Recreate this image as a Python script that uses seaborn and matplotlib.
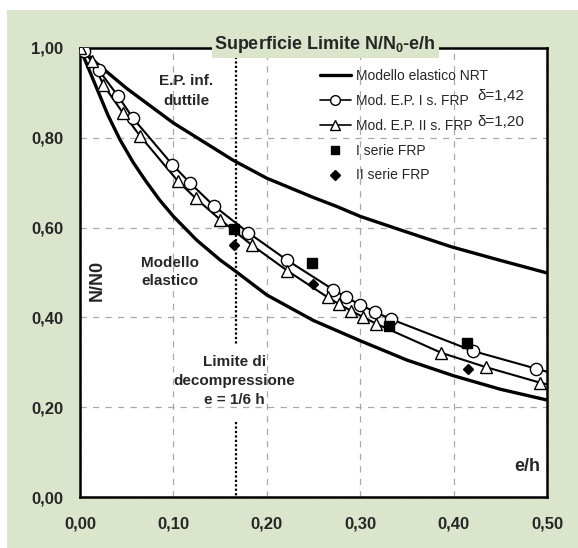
import matplotlib
matplotlib.use("Agg")
import matplotlib.pyplot as plt
import seaborn as sns
from matplotlib.lines import Line2D
from matplotlib.patches import Rectangle

# ---------------- data ----------------
x_ticks = [0.0, 0.1, 0.2, 0.3, 0.4, 0.5]
x_tick_labels = ["0,00", "0,10", "0,20", "0,30", "0,40", "0,50"]
y_ticks = [0.0, 0.2, 0.4, 0.6, 0.8, 1.0]
y_tick_labels = ["0,00", "0,20", "0,40", "0,60", "0,80", "1,00"]

# upper curve (E.P. inf. duttile)
upper_e = [0.0, 0.02, 0.05, 0.10, 0.164, 0.20, 0.25, 0.275, 0.30, 0.35, 0.398, 0.45, 0.50]
upper_n = [1.0, 0.962, 0.91, 0.833, 0.75, 0.71, 0.667, 0.647, 0.625, 0.59, 0.557, 0.527, 0.499]

# lower curve (Modello elastico)
lower_e = [0.0, 0.01, 0.02, 0.03, 0.043, 0.057, 0.07, 0.085, 0.10, 0.125, 0.15, 0.1645,
           0.20, 0.25, 0.30, 0.35, 0.40, 0.45, 0.50]
lower_n = [1.0, 0.95, 0.90, 0.85, 0.795, 0.745, 0.705, 0.662, 0.625, 0.572, 0.528, 0.506,
           0.450, 0.393, 0.348, 0.305, 0.270, 0.240, 0.216]

# Mod. E.P. I s. FRP (circles)
s1_e = [0.004, 0.020, 0.041, 0.057, 0.099, 0.118, 0.143, 0.180, 0.222, 0.271, 0.285, 0.300, 0.316, 0.333, 0.421, 0.488]
s1_n = [0.993, 0.951, 0.892, 0.843, 0.740, 0.699, 0.649, 0.589, 0.527, 0.462, 0.445, 0.428, 0.412, 0.396, 0.325, 0.286]
s1_line_e = [0.0] + s1_e + [0.50]
s1_line_n = [1.0] + s1_n + [0.279]

# Mod. E.P. II s. FRP (triangles)
s2_e = [0.0, 0.013, 0.025, 0.046, 0.064, 0.105, 0.124, 0.150, 0.184, 0.222, 0.265, 0.277, 0.290, 0.303, 0.317, 0.387, 0.435, 0.492]
s2_n = [1.0, 0.972, 0.918, 0.855, 0.805, 0.703, 0.665, 0.618, 0.561, 0.504, 0.445, 0.430, 0.415, 0.401, 0.386, 0.321, 0.289, 0.255]
s2_line_e = s2_e + [0.50]
s2_line_n = s2_n + [0.251]

# experimental points
exp1_e = [0.165, 0.248, 0.331, 0.414]
exp1_n = [0.596, 0.522, 0.381, 0.344]
exp2_e = [0.165, 0.249, 0.415]
exp2_n = [0.561, 0.474, 0.285]

decompression_e = 1 / 6

# ---------------- style ----------------
sns.set_style("white")
plt.rcParams["font.family"] = ["Liberation Sans", "DejaVu Sans"]
plt.rcParams["mathtext.fontset"] = "custom"
plt.rcParams["mathtext.rm"] = "Liberation Sans"
plt.rcParams["mathtext.bf"] = "Liberation Sans:bold"

GREEN = "#dae5cc"
W, H = 578, 548
fig = plt.figure(figsize=(W / 100, H / 100), dpi=100, facecolor="white")
fig.patches.append(Rectangle((7 / W, 0), 1, 1 - 10 / H, transform=fig.transFigure,
                             facecolor=GREEN, edgecolor="none", zorder=-10))
ax = fig.add_axes([80 / W, 1 - 497 / H, 467 / W, 449 / H])
ax.set_facecolor("white")

# curves
sns.lineplot(x=upper_e, y=upper_n, ax=ax, color="black", lw=2.4, sort=False, estimator=None)
sns.lineplot(x=lower_e, y=lower_n, ax=ax, color="black", lw=2.4, sort=False, estimator=None)
sns.lineplot(x=s1_line_e, y=s1_line_n, ax=ax, color="black", lw=1.5, sort=False, estimator=None)
sns.lineplot(x=s2_line_e, y=s2_line_n, ax=ax, color="black", lw=1.5, sort=False, estimator=None)

ax.plot(s1_e, s1_n, ls="none", marker="o", ms=8.8, mfc="white", mec="black", mew=1.0, zorder=5)
ax.plot(s2_e, s2_n, ls="none", marker="^", ms=8.8, mfc="white", mec="black", mew=1.0, zorder=5)
ax.plot(exp1_e, exp1_n, ls="none", marker="s", ms=7, mfc="black", mec="black", zorder=6)
ax.plot(exp2_e, exp2_n, ls="none", marker="D", ms=5.5, mfc="black", mec="black", zorder=6)

# decompression limit (dotted, interrupted by text)
ax.plot([decompression_e, decompression_e], [1.0, 0.34], color="black", lw=1.6, ls=(0, (1, 1)))
ax.plot([decompression_e, decompression_e], [0.167, 0.0], color="black", lw=1.6, ls=(0, (1, 1)))

# axes
ax.set_xlim(0, 0.5)
ax.set_ylim(0, 1.0)
ax.set_xticks(x_ticks)
ax.set_xticklabels(x_tick_labels)
ax.set_yticks(y_ticks)
ax.set_yticklabels(y_tick_labels)
for lab in ax.get_xticklabels() + ax.get_yticklabels():
    lab.set_fontweight("bold")
    lab.set_fontsize(12)
ax.tick_params(axis="both", direction="out", length=4, width=0.8, color="#666666")
ax.tick_params(axis="x", pad=10)
ax.tick_params(axis="y", pad=8)
ax.grid(True, ls=(0, (5, 5)), color="#a8a8a8", lw=0.9)
ax.set_axisbelow(True)
for sp in ax.spines.values():
    sp.set_visible(True)
    sp.set_color("black")
    sp.set_linewidth(1.8)
ax.set_xlabel("")
ax.set_ylabel("")

# title sitting on the top spine
ax.text(0.525, 1.008, r"Superficie Limite N/N$_{\mathbf{0}}$-e/h", transform=ax.transAxes,
        ha="center", va="center", fontsize=13, fontweight="bold",
        bbox=dict(boxstyle="square,pad=0.15", facecolor=GREEN, edgecolor="none"),
        zorder=10, clip_on=False)

# annotations
ax.text(0.1135, 0.905, "E.P. inf.\nduttile", ha="center", va="center", fontsize=11,
        fontweight="bold", linespacing=1.55)
ax.text(0.0964, 0.501, "Modello\nelastico", ha="center", va="center", fontsize=11,
        fontweight="bold", linespacing=1.3)
ax.text(0.165, 0.258, "Limite di\ndecompressione\ne = 1/6 h", ha="center", va="center",
        fontsize=11, fontweight="bold", linespacing=1.45)
ax.text(0.019, 0.483, "N/N0", ha="center", va="center", rotation=90, fontsize=13,
        fontweight="bold")
ax.text(0.4786, 0.067, "e/h", ha="center", va="center", fontsize=13, fontweight="bold")
ax.text(0.4508, 0.892, "\u03b4=1,42", ha="center", va="center", fontsize=11)
ax.text(0.4508, 0.836, "\u03b4=1,20", ha="center", va="center", fontsize=11)

# legend
handles = [
    Line2D([], [], color="black", lw=2.4),
    Line2D([], [], color="black", lw=1.2, marker="o", ms=7, mfc="white", mec="black"),
    Line2D([], [], color="black", lw=1.2, marker="^", ms=7, mfc="white", mec="black"),
    Line2D([], [], ls="none", marker="s", ms=6, mfc="black", mec="black"),
    Line2D([], [], ls="none", marker="D", ms=5, mfc="black", mec="black"),
]
labels = ["Modello elastico NRT", "Mod. E.P. I s. FRP", "Mod. E.P. II s. FRP",
          "I serie FRP", "II serie FRP"]
ax.legend(handles, labels, loc="upper left", bbox_to_anchor=(0.514, 0.953), frameon=False,
          fontsize=10, borderpad=0, borderaxespad=0, handlelength=2.2, handletextpad=0.4,
          labelspacing=0.78, numpoints=1)

fig.savefig("out.png", dpi=100, facecolor="white")
